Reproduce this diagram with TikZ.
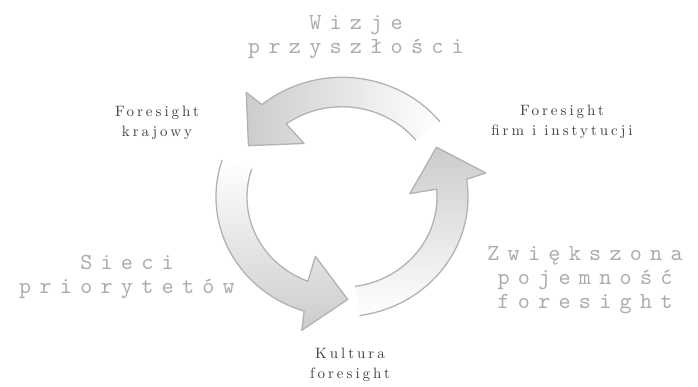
\documentclass[tikz,border=0pt]{standalone}
\usepackage{fontspec}
\newfontfamily\bigmono[LetterSpace=36]{lmmono10-regular.otf}
\newfontfamily\smallserif[LetterSpace=20]{lmroman10-regular.otf}
\newcommand\bigfont{\fontsize{23}{24}\selectfont\bigmono}
\newcommand\smallfont{\fontsize{15}{20}\selectfont\smallserif}
\newcommand\cycarrow[2]{%
  \pgfmathsetmacro\ta{#1}%
  \shade[#2] (\ta:126) arc[start angle=\ta, end angle={\ta+90.5}, radius=126]
     -- ({\ta+92}:146) -- ({\ta+111}:108) -- ({\ta+85}:68) -- ({\ta+87}:95)
     arc[start angle={\ta+87}, end angle=\ta, radius=95] -- cycle;
  \draw[arrowline] (\ta:126) arc[start angle=\ta, end angle={\ta+90.5}, radius=126]
     -- ({\ta+92}:146) -- ({\ta+111}:108) -- ({\ta+85}:68) -- ({\ta+87}:95)
     arc[start angle={\ta+87}, end angle=\ta, radius=95];
}
\begin{document}
\begin{tikzpicture}[x=1pt,y=1pt]
\tikzset{
  arrowline/.style={draw=gray!60, line width=1.3pt, line join=round},
  biglabel/.style={font=\bigfont, text=gray!65, align=center, inner sep=0pt},
  smalllabel/.style={font=\smallfont, text=black!75, align=center, inner sep=0pt},
}
\useasboundingbox[fill=white] (0,0) rectangle (698,387);
\begin{scope}[shift={(342,190)}, yscale=0.95]
  \cycarrow{39}{left color=gray!40, right color=white}
  \cycarrow{162}{top color=white, bottom color=gray!40}
  \cycarrow{278}{bottom color=white, top color=gray!40}
\end{scope}
\node[biglabel] (wizje) at (356,350) {Wizje\\przyszłości};
\node[biglabel] (sieci) at (127,110) {Sieci\\priorytetów};
\node[biglabel] (zwiek) at (585,107) {Zwiększona\\pojemność\\foresight};
\node[smalllabel] (kraj) at (157,264) {Foresight\\krajowy};
\node[smalllabel] (firm) at (562,265) {Foresight\\firm i instytucji};
\node[smalllabel] (kult) at (350,22) {Kultura\\foresight};
\end{tikzpicture}
\end{document}
